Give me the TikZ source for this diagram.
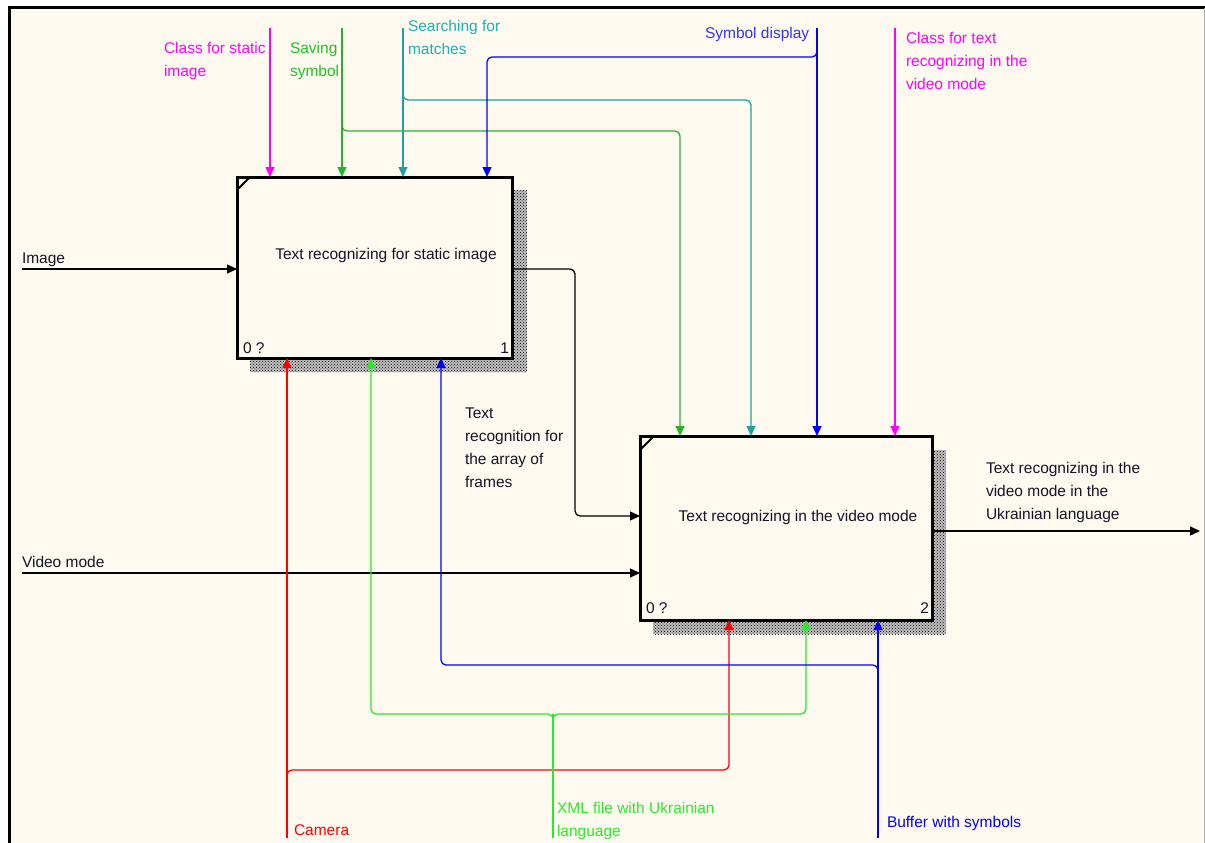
\documentclass[tikz,border=0pt]{standalone}
\usepackage{fontspec}
\setmainfont{Liberation Sans}
\usetikzlibrary{arrows.meta,patterns}

\definecolor{paper}{RGB}{254,250,240}
\definecolor{cmag}{RGB}{255,0,255}
\definecolor{cgreen}{RGB}{40,180,40}
\definecolor{cteal}{RGB}{32,160,160}
\definecolor{cblue}{RGB}{0,0,255}
\definecolor{cred}{RGB}{255,0,0}
\definecolor{clime}{RGB}{40,235,40}
\definecolor{ink}{RGB}{20,20,40}

\begin{document}
\begin{tikzpicture}[x=1pt,y=-1pt,
  every node/.style={font=\fontsize{15.5}{23}\selectfont, text=ink, inner sep=0pt, outer sep=0pt},
  lbl/.style={anchor=base west, align=left},
  flow/.style={line width=1.3pt, rounded corners=5pt, -{Triangle[length=10pt,width=9pt]}},
  wire/.style={line width=1.3pt, rounded corners=5pt},
  activity/.style={draw=black, line width=3pt, fill=paper, rectangle, minimum width=275pt, minimum height=181pt},
  shade/.style={pattern=crosshatch dots, pattern color=black, draw=none},
]
% sheet
\useasboundingbox (0,0) rectangle (1205,843);
\fill[white] (0,0) rectangle (1205,843);
\fill[paper] (9,8) rectangle (1205,843);
\draw[line width=2.5pt] (8,7.5) -- (1205,7.5);
\draw[line width=3pt] (9.5,6.5) -- (9.5,843);
\draw[black!30, line width=1pt] (1204.5,8) -- (1204.5,843);

% shadows (two layers: light grey ground, dark dots)
\foreach \r in {{(512,190) rectangle (527,372)}, {(250,358) rectangle (527,372)},
                {(932,450) rectangle (946,634)}, {(653,620) rectangle (946,634)}}{
  \fill[black!25] \r;
  \fill[shade] \r;
}

% activity boxes
\node[activity] (b1) at (374.5,267.5) {};
\node[activity, minimum width=292pt, minimum height=184pt] (b2) at (786,528) {};
\draw[line width=2pt] (b1.north west) ++(0,13) -- ++(13,-13);
\draw[line width=2pt] (b2.north west) ++(0,14) -- ++(14,-14);

\node (t1) at (386,255) {Text recognizing for static image};
\node (t2) at (798,517) {Text recognizing in the video mode};
\node[lbl] (n1a) at (243,353) {0 ?};
\node[anchor=base east] (n1b) at (509,353) {1};
\node[lbl] (n2a) at (646,613) {0 ?};
\node[anchor=base east] (n2b) at (929,613) {2};

% free ends
\coordinate (cs) at (270,28);
\coordinate (sv) at (342,28);
\coordinate (sm) at (403,28);
\coordinate (sd) at (817,28);
\coordinate (ct) at (895,28);
\coordinate (im) at (22,269);
\coordinate (vm) at (22,573);
\coordinate (out) at (1200,531);
\coordinate (cam) at (287,838);
\coordinate (xml) at (553,838);
\coordinate (buf) at (878,838);

% controls
\draw[flow, cmag] (cs) -- (cs |- b1.north);
\draw[flow, cgreen] (sv) -- (sv |- b1.north);
\draw[flow, cgreen] (342,125) -- (342,131) -- (680,131) -- (b2.north -| 680,0);
\draw[flow, cteal] (sm) -- (sm |- b1.north);
\draw[flow, cteal] (403,94) -- (403,100) -- (751,100) -- (b2.north -| 751,0);
\draw[flow, cblue] (sd) -- (sd |- b2.north);
\draw[flow, cblue] (817,51) -- (817,57) -- (487,57) -- (b1.north -| 487,0);
\draw[flow, cmag] (ct) -- (ct |- b2.north);

% inputs and outputs
\draw[flow, black] (im) -- (im -| b1.west);
\draw[flow, black] (vm) -- (vm -| b2.west);
\draw[flow, black] (b1.east |- 0,269) -- (575,269) -- (575,516) -- (b2.west |- 0,516);
\draw[flow, black] (b2.east |- out) -- (out);

% mechanisms
\draw[flow, cred] (cam) -- (cam |- b1.south);
\draw[flow, cred] (287,776) -- (287,770) -- (729,770) -- (b2.south -| 729,0);
\draw[wire, clime] (xml) -- (553,714);
\draw[flow, clime] (553,720) -- (553,714) -- (371,714) -- (b1.south -| 371,0);
\draw[flow, clime] (553,720) -- (553,714) -- (806,714) -- (b2.south -| 806,0);
\draw[flow, cblue] (buf) -- (buf |- b2.south);
\draw[flow, cblue] (878,671) -- (878,665) -- (441,665) -- (b1.south -| 441,0);

% arrow labels (anchored at the baseline of their last line)
\node[lbl, text=cmag] (l1) at (164,77) {Class for static\\image};
\node[lbl, text=cgreen!80!green] (l2) at (290,77) {Saving\\symbol};
\node[lbl, text=cteal!80!cyan] (l3) at (408,55) {Searching for\\matches};
\node[lbl, text=cblue!80!white] (l4) at (705,39) {Symbol display};
\node[lbl, text=cmag] (l5) at (906,89) {Class for text\\recognizing in the\\video mode};
\node[lbl] (l6) at (22,263) {Image};
\node[lbl] (l7) at (22,567) {Video mode};
\node[lbl] (l8) at (465,487) {Text\\recognition for\\the array of\\frames};
\node[lbl] (l9) at (986,519) {Text recognizing in the\\video mode in the\\Ukrainian language};
\node[lbl, text=cred] (l10) at (294,835) {Camera};
\node[lbl, text=clime] (l11) at (557,836) {XML file with Ukrainian\\language};
\node[lbl, text=cblue] (l12) at (887,827) {Buffer with symbols};
\end{tikzpicture}
\end{document}
